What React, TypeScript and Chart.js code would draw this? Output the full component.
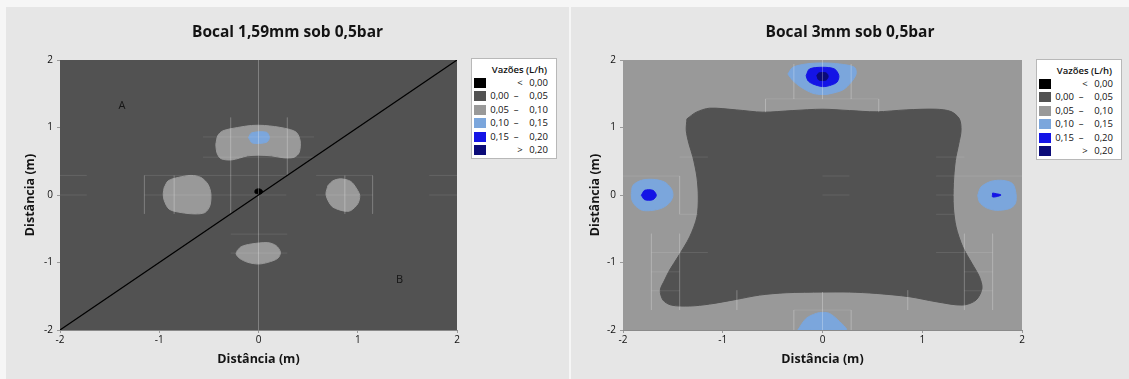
import React, { useEffect, useRef } from 'react';
import { Chart, registerables } from 'chart.js';

Chart.register(...registerables);

type Pt = { x: number; y: number };
type Region = { data: number[][]; color: string; order: number };

// ---------- DATA ----------
const axisTicks = [-2, -1, 0, 1, 2];
const axisTitle = 'Distância (m)';

const legendTitle = 'Vazões (L/h)';
const legendColors = ['#000000', '#525252', '#999999', '#7ba6dc', '#1414e6', '#0b0b78'];
const legendFrom = ['', '0,00', '0,05', '0,10', '0,15', ''];
const legendSep = ['<', '–', '–', '–', '–', '>'];
const legendTo = ['0,00', '0,05', '0,10', '0,15', '0,20', '0,20'];

const plotFrame = [[-2, -2], [2, -2], [2, 2], [-2, 2], [-2, -2]];

// Left chart: Bocal 1,59mm
const leftTitle = 'Bocal 1,59mm sob 0,5bar';
const leftTopBlob = [[-0.43, 0.75], [-0.41, 0.88], [-0.36, 0.95], [-0.21, 1.0], [-0.07, 1.03], [0.06, 1.03], [0.26, 0.99], [0.38, 0.93], [0.42, 0.8], [0.41, 0.63], [0.36, 0.56], [0.26, 0.55], [0.13, 0.58], [0, 0.59], [-0.11, 0.58], [-0.27, 0.52], [-0.38, 0.54], [-0.42, 0.63]];
const leftTopCore = [[-0.1, 0.85], [-0.07, 0.92], [0.08, 0.93], [0.11, 0.85], [0.08, 0.78], [-0.06, 0.77]];
const leftWestBlob = [[-0.95, 0.11], [-0.91, 0.21], [-0.81, 0.26], [-0.68, 0.29], [-0.58, 0.26], [-0.51, 0.16], [-0.48, 0.02], [-0.49, -0.16], [-0.54, -0.26], [-0.64, -0.28], [-0.78, -0.26], [-0.9, -0.21], [-0.95, -0.08], [-0.96, 0.02]];
const leftEastBlob = [[0.7, 0.14], [0.75, 0.21], [0.83, 0.24], [0.93, 0.2], [0.99, 0.09], [1.02, -0.01], [1.0, -0.13], [0.93, -0.23], [0.87, -0.24], [0.75, -0.18], [0.7, -0.08], [0.68, 0.02]];
const leftSouthBlob = [[-0.215, -0.825], [-0.174, -0.765], [-0.074, -0.726], [0.094, -0.706], [0.178, -0.751], [0.221, -0.849], [0.194, -0.938], [0.094, -0.998], [0, -1.022], [-0.107, -0.998], [-0.191, -0.938], [-0.225, -0.874]];
const leftCenterDot = [[-0.035, 0.03], [-0.035, 0.07], [-0.01, 0.09], [0.02, 0.085], [0.04, 0.06], [0.03, 0.02], [0, 0.015]];
const leftDiagonal = [[-2, -2], [2, 2]];
const leftLabels = [{ text: 'A', x: -1.375, y: 1.32 }, { text: 'B', x: 1.42, y: -1.25 }];
const leftGridSegments = [
  [[0, 2], [0, -2]],
  [[-0.28, 1.15], [-0.28, -0.28]],
  [[0.29, 1.15], [0.29, 0.29]],
  [[-0.56, 0.86], [0.56, 0.86]],
  [[-0.56, 0.56], [0.56, 0.56]],
  [[-2, 0.29], [-1.73, 0.29]],
  [[-1.15, 0.29], [0.28, 0.29]],
  [[0.58, 0.29], [1.15, 0.29]],
  [[1.72, 0.29], [2, 0.29]],
  [[-2, 0], [-1.73, 0]],
  [[-1.15, 0], [0.28, 0]],
  [[0.58, 0], [1.15, 0]],
  [[1.72, 0], [2, 0]],
  [[-1.15, 0.29], [-1.15, -0.28]],
  [[-0.85, 0.29], [-0.85, -0.28]],
  [[0.87, 0.29], [0.87, -0.28]],
  [[1.15, 0.29], [1.15, -0.28]],
  [[-0.28, -0.58], [0.29, -0.58]],
  [[-0.28, -0.86], [0.29, -0.86]],
];

// Right chart: Bocal 3mm
const rightTitle = 'Bocal 3mm sob 0,5bar';
const rightCoreShape = [[-1.359, 1.128], [-1.265, 1.227], [-1.132, 1.286], [-0.865, 1.261], [-0.598, 1.227], [-0.297, 1.251], [0, 1.271], [0.27, 1.251], [0.538, 1.232], [0.838, 1.261], [1.139, 1.271], [1.289, 1.236], [1.372, 1.128], [1.389, 0.956], [1.366, 0.759], [1.332, 0.512], [1.312, 0.167], [1.312, -0.177], [1.339, -0.473], [1.406, -0.768], [1.499, -1.015], [1.573, -1.212], [1.599, -1.384], [1.539, -1.557], [1.406, -1.631], [1.139, -1.581], [0.871, -1.507], [0.538, -1.458], [0.27, -1.438], [0, -1.438], [-0.364, -1.448], [-0.631, -1.483], [-0.865, -1.547], [-1.132, -1.616], [-1.332, -1.645], [-1.516, -1.631], [-1.599, -1.557], [-1.626, -1.409], [-1.583, -1.261], [-1.533, -1.113], [-1.449, -0.916], [-1.332, -0.621], [-1.259, -0.325], [-1.245, -0.03], [-1.259, 0.266], [-1.299, 0.562], [-1.339, 0.759], [-1.366, 0.956]];
const rightNorthOuter = [[-0.347, 1.793], [-0.297, 1.892], [-0.164, 1.941], [0, 1.956], [0.17, 1.941], [0.321, 1.892], [0.337, 1.793], [0.287, 1.67], [0.204, 1.557], [0.07, 1.498], [0, 1.488], [-0.097, 1.507], [-0.214, 1.596], [-0.297, 1.695]];
const rightNorthMid = [[-0.164, 1.768], [-0.13, 1.867], [0, 1.892], [0.12, 1.867], [0.164, 1.768], [0.144, 1.67], [0.07, 1.621], [0, 1.606], [-0.097, 1.645], [-0.147, 1.695]];
const rightNorthCore = [[-0.057, 1.768], [-0.037, 1.808], [0.037, 1.808], [0.057, 1.759], [0.037, 1.704], [-0.037, 1.704]];
const rightWestOuter = [[-1.917, 0.02], [-1.9, 0.143], [-1.816, 0.217], [-1.7, 0.232], [-1.583, 0.192], [-1.516, 0.094], [-1.499, -0.005], [-1.526, -0.103], [-1.599, -0.187], [-1.7, -0.227], [-1.806, -0.227], [-1.873, -0.163], [-1.91, -0.079]];
const rightWestMid = [[-1.816, -0.005], [-1.783, 0.069], [-1.7, 0.069], [-1.666, -0.005], [-1.7, -0.069], [-1.783, -0.069]];
const rightEastOuter = [[1.556, -0.005], [1.589, 0.118], [1.689, 0.202], [1.806, 0.217], [1.906, 0.167], [1.94, 0.02], [1.933, -0.128], [1.873, -0.202], [1.74, -0.227], [1.639, -0.187], [1.573, -0.103]];
const rightEastMid = [[1.706, 0.03], [1.79, 0], [1.706, -0.03]];
const rightSouthOuter = [[-0.247, -2], [-0.164, -1.828], [-0.063, -1.754], [0, -1.739], [0.07, -1.754], [0.154, -1.852], [0.237, -2]];
const rightGridSegments = [
  [[-0.287, 1.94], [-0.287, 1.42]],
  [[0, 2], [0, 1.42]],
  [[0.287, 1.94], [0.287, 1.42]],
  [[-0.571, 1.424], [0.564, 1.424]],
  [[-0.571, 1.424], [-0.571, 1.227]],
  [[0.564, 1.424], [0.564, 1.227]],
  [[-1.432, 0.562], [-1.149, 0.562]],
  [[1.139, 0.562], [1.422, 0.562]],
  [[-2, 0.281], [-1.432, 0.281]],
  [[0, 0.281], [0.27, 0.281]],
  [[1.139, 0.281], [2, 0.281]],
  [[0, 0], [0.27, 0]],
  [[1.139, 0], [1.32, 0]],
  [[-1.432, -0.286], [-1.25, -0.286]],
  [[1.139, -0.286], [1.32, -0.286]],
  [[-1.432, 0.281], [-1.432, -0.286]],
  [[-1.716, -0.571], [-1.716, -1.704]],
  [[-1.432, -0.571], [-1.432, -1.704]],
  [[-1.716, -0.852], [-1.149, -0.852]],
  [[-1.716, -1.138], [-1.432, -1.138]],
  [[-1.716, -1.419], [-1.432, -1.419]],
  [[1.706, -0.571], [1.706, -1.704]],
  [[1.422, -0.571], [1.422, -1.704]],
  [[1.139, -0.852], [1.706, -0.852]],
  [[1.422, -1.138], [1.706, -1.138]],
  [[1.422, -1.419], [1.706, -1.419]],
  [[-0.858, -1.41], [-0.858, -1.704]],
  [[0.855, -1.41], [0.855, -1.704]],
  [[-0.287, -1.704], [0.287, -1.704]],
  [[-0.287, -1.704], [-0.287, -2]],
  [[0.287, -1.704], [0.287, -2]],
  [[0, -1.438], [0, -2]],
];

// ---------- helpers ----------
const toPts = (a: number[][]): Pt[] => a.map(([x, y]) => ({ x, y }));
const closed = (a: number[][]): Pt[] => toPts([...a, a[0]]);

const FONT = '"Open Sans", "Noto Sans", sans-serif';

const pointLabelPlugin = {
  id: 'pointLabels',
  afterDatasetsDraw(chart: any, _args: any, opts: any) {
    const items = (opts && opts.items) || [];
    const { ctx } = chart;
    const xs = chart.scales.x;
    const ys = chart.scales.y;
    ctx.save();
    ctx.font = `11px ${FONT}`;
    ctx.fillStyle = '#151515';
    ctx.textAlign = 'center';
    ctx.textBaseline = 'middle';
    items.forEach((it: any) => ctx.fillText(it.text, xs.getPixelForValue(it.x), ys.getPixelForValue(it.y)));
    ctx.restore();
  },
};

type PanelCfg = {
  title: string;
  width: number;
  leftW: number;
  rightW: number;
  background: string;
  regions: Region[];
  lines: { data: number[][]; color: string; width: number }[];
  segments: number[][][];
  labels: { text: string; x: number; y: number }[];
};

function ContourChart({ cfg }: { cfg: PanelCfg }) {
  const ref = useRef<HTMLCanvasElement>(null);
  useEffect(() => {
    if (!ref.current) return;
    const datasets: any[] = [];
    datasets.push({
      data: closed(plotFrame), backgroundColor: cfg.background, borderColor: cfg.background,
      borderWidth: 1, fill: 'shape', pointRadius: 0, tension: 0, order: 100,
    });
    cfg.regions.forEach((r) => {
      datasets.push({
        data: closed(r.data), backgroundColor: r.color, borderColor: r.color,
        borderWidth: 1, fill: 'shape', pointRadius: 0, tension: 0.3, order: r.order,
      });
    });
    cfg.segments.forEach((s) => {
      datasets.push({
        data: toPts(s), borderColor: 'rgba(255,255,255,0.1)', borderWidth: 1,
        fill: false, pointRadius: 0, tension: 0, order: 5,
      });
    });
    cfg.lines.forEach((l) => {
      datasets.push({
        data: toPts(l.data), borderColor: l.color, borderWidth: l.width,
        fill: false, pointRadius: 0, tension: 0, order: 1,
      });
    });
    const axisCommon = {
      type: 'linear',
      min: -2,
      max: 2,
      afterBuildTicks: (s: any) => { s.ticks = axisTicks.map((v) => ({ value: v })); },
      grid: { drawOnChartArea: false, drawTicks: true, tickLength: 3, color: '#9a9a9a' },
      border: { display: true, color: '#8a8a8a', width: 1 },
    };
    const chart = new Chart(ref.current, {
      type: 'line',
      data: { datasets },
      plugins: [pointLabelPlugin as any],
      options: {
        animation: false,
        responsive: false,
        devicePixelRatio: 1,
        events: [],
        layout: { padding: 0 },
        plugins: {
          legend: { display: false },
          tooltip: { enabled: false },
          title: {
            display: true,
            text: cfg.title,
            color: '#141414',
            font: { family: FONT, size: 15.5, weight: 'bold', lineHeight: 1.2 },
            padding: { top: 16.2, bottom: 18.2 },
          },
          pointLabels: { items: cfg.labels },
        } as any,
        scales: {
          x: {
            ...axisCommon,
            position: 'bottom',
            afterFit: (s: any) => { s.height = 49; },
            ticks: { color: '#111', font: { family: FONT, size: 10 }, padding: 1.5, maxRotation: 0, autoSkip: false },
            title: {
              display: true, text: axisTitle, color: '#141414',
              font: { family: FONT, size: 12.5, weight: 'bold', lineHeight: 1.2 },
              padding: { top: 0, bottom: 12.5 },
            },
          },
          y: {
            ...axisCommon,
            position: 'left',
            afterFit: (s: any) => { s.width = cfg.leftW; },
            ticks: { color: '#111', font: { family: FONT, size: 10 }, padding: 4, autoSkip: false },
            title: {
              display: true, text: axisTitle, color: '#141414',
              font: { family: FONT, size: 12.5, weight: 'bold', lineHeight: 1.2 },
              padding: { top: 17, bottom: 0 },
            },
          },
          legendSpace: {
            type: 'linear',
            position: 'right',
            display: true,
            afterFit: (s: any) => { s.width = cfg.rightW; },
            grid: { display: false },
            border: { display: false },
            ticks: { display: false },
          },
        } as any,
      },
    } as any);
    return () => chart.destroy();
  }, [cfg]);
  return <canvas ref={ref} width={cfg.width} height={372} style={{ display: 'block' }} />;
}

function Legend({ left, top }: { left: number; top: number }) {
  return (
    <div
      style={{
        position: 'absolute', left, top, width: 86, height: 101, background: '#ffffff',
        border: '1px solid #b8b8b8', boxSizing: 'border-box', fontFamily: FONT, fontSize: 9.5, color: '#111',
      }}
    >
      <div style={{ position: 'absolute', right: 9, top: 4, fontWeight: 600, lineHeight: '14px', whiteSpace: 'nowrap' }}>{legendTitle}</div>
      {legendColors.map((c, i) => {
        const cy = 23.8 + i * 13.45;
        return (
          <React.Fragment key={i}>
            <div style={{ position: 'absolute', left: 2, top: cy - 5, width: 12, height: 10, background: c }} />
            <span style={{ position: 'absolute', right: 47, top: cy - 7, lineHeight: '14px', whiteSpace: 'nowrap' }}>{legendFrom[i]}</span>
            <span style={{ position: 'absolute', left: legendFrom[i] ? 44 : 48, top: cy - 7, lineHeight: '14px', transform: 'translateX(-50%)' }}>{legendSep[i]}</span>
            <span style={{ position: 'absolute', right: 8, top: cy - 7, lineHeight: '14px', whiteSpace: 'nowrap' }}>{legendTo[i]}</span>
          </React.Fragment>
        );
      })}
    </div>
  );
}

const leftCfg: PanelCfg = {
  title: leftTitle,
  width: 563,
  leftW: 54,
  rightW: 112,
  background: '#525252',
  regions: [
    { data: leftTopBlob, color: '#999999', order: 50 },
    { data: leftWestBlob, color: '#999999', order: 50 },
    { data: leftEastBlob, color: '#999999', order: 50 },
    { data: leftSouthBlob, color: '#999999', order: 50 },
    { data: leftTopCore, color: '#7ba6dc', order: 40 },
    { data: leftCenterDot, color: '#000000', order: 40 },
  ],
  lines: [{ data: leftDiagonal, color: '#000000', width: 1.2 }],
  segments: leftGridSegments,
  labels: leftLabels,
};

const rightCfg: PanelCfg = {
  title: rightTitle,
  width: 558,
  leftW: 52,
  rightW: 107,
  background: '#999999',
  regions: [
    { data: rightCoreShape, color: '#525252', order: 50 },
    { data: rightNorthOuter, color: '#7ba6dc', order: 50 },
    { data: rightWestOuter, color: '#7ba6dc', order: 50 },
    { data: rightEastOuter, color: '#7ba6dc', order: 50 },
    { data: rightSouthOuter, color: '#7ba6dc', order: 50 },
    { data: rightNorthMid, color: '#1414e6', order: 40 },
    { data: rightWestMid, color: '#1414e6', order: 40 },
    { data: rightEastMid, color: '#1414e6', order: 40 },
    { data: rightNorthCore, color: '#0b0b78', order: 30 },
  ],
  lines: [],
  segments: rightGridSegments,
  labels: [],
};

export default function App() {
  return (
    <div style={{ position: 'absolute', left: 0, top: 0, width: 1129, height: 379, background: '#f6f6f6', overflow: 'hidden' }}>
      <div style={{ position: 'absolute', left: 6, top: 7, width: 563, height: 372, background: '#e6e6e6' }}>
        <ContourChart cfg={leftCfg} />
        <Legend left={465} top={51} />
      </div>
      <div style={{ position: 'absolute', left: 571, top: 7, width: 558, height: 372, background: '#e6e6e6' }}>
        <ContourChart cfg={rightCfg} />
        <Legend left={465} top={52} />
      </div>
    </div>
  );
}
